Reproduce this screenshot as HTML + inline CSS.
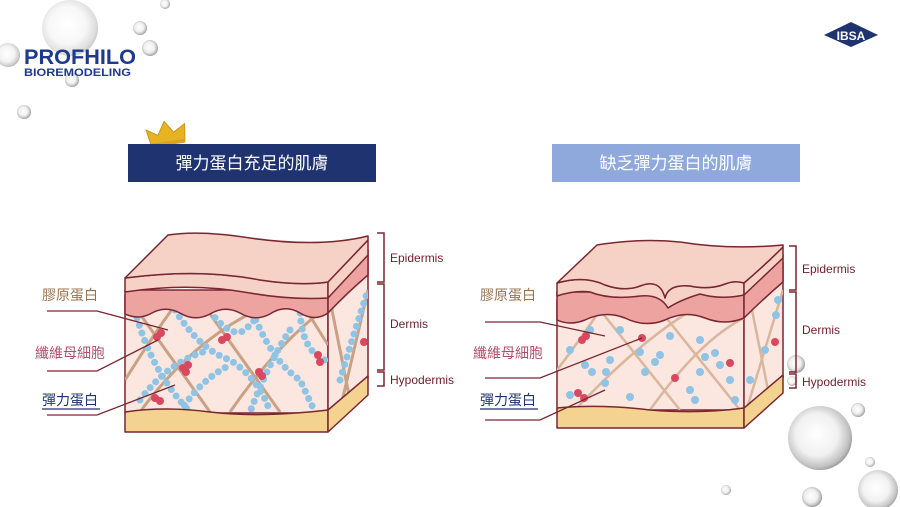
<!DOCTYPE html>
<html><head><meta charset="utf-8"><style>
html,body{margin:0;padding:0;background:#fff;}
body{width:900px;height:507px;overflow:hidden;position:relative;font-family:"Liberation Sans","Noto Sans CJK TC",sans-serif;}
svg{position:absolute;left:0;top:0;}
</style></head><body>
<svg width="900" height="507" viewBox="0 0 900 507" xmlns="http://www.w3.org/2000/svg" font-family="Liberation Sans, Noto Sans CJK TC, sans-serif">
<defs>
<radialGradient id="bub" cx="0.45" cy="0.45" r="0.6">
<stop offset="0" stop-color="#ffffff"/><stop offset="0.55" stop-color="#eeeeee"/><stop offset="0.85" stop-color="#b5b5b5"/><stop offset="1" stop-color="#6e6e6e"/>
</radialGradient>
<clipPath id="lf"><rect x="125" y="300" width="203" height="112"/></clipPath>
<clipPath id="lr"><polygon points="328,300 368,260 368,378 328,412"/></clipPath>
<clipPath id="rf"><rect x="557" y="305" width="187" height="105"/></clipPath>
<clipPath id="rr"><polygon points="744,305 783,268 783,378 744,410"/></clipPath>
</defs>

<!-- bubbles -->
<circle cx="70" cy="28" r="28" fill="url(#bub)" opacity="0.45"/>
<circle cx="8" cy="55" r="12" fill="url(#bub)" opacity="0.7"/>
<circle cx="140" cy="28" r="7" fill="url(#bub)"/>
<circle cx="150" cy="48" r="8" fill="url(#bub)"/>
<circle cx="72" cy="80" r="7" fill="url(#bub)"/>
<circle cx="24" cy="112" r="7" fill="url(#bub)"/>
<circle cx="165" cy="4" r="5" fill="url(#bub)"/>
<circle cx="796" cy="364" r="9" fill="url(#bub)"/>
<circle cx="792" cy="381" r="5" fill="url(#bub)"/>
<circle cx="820" cy="438" r="32" fill="url(#bub)" opacity="0.85"/>
<circle cx="858" cy="410" r="7" fill="url(#bub)"/>
<circle cx="878" cy="490" r="20" fill="url(#bub)" opacity="0.8"/>
<circle cx="812" cy="497" r="10" fill="url(#bub)"/>
<circle cx="726" cy="490" r="5" fill="url(#bub)"/>
<circle cx="870" cy="462" r="5" fill="url(#bub)"/>

<!-- logo -->
<text x="24" y="64" font-size="21" font-weight="bold" fill="#1e3a8a" textLength="112" lengthAdjust="spacingAndGlyphs">PROFHILO</text>
<text x="24" y="76" font-size="11" font-weight="bold" fill="#1e3a8a" textLength="107" lengthAdjust="spacingAndGlyphs">BIOREMODELING</text>
<polygon points="824,35 851,22 878,35 851,47" fill="#1e3370"/>
<text x="851" y="40" font-size="12" font-weight="bold" fill="#fff" text-anchor="middle">IBSA</text>

<!-- crown -->
<g transform="rotate(-8 168 135)">
<path d="M150,143 L147,127 L158,134 L166,121 L174,133 L186,126 L184,143 Z" fill="#e6b422" stroke="#c9961a" stroke-width="1"/>
<rect x="150" y="141" width="34" height="4" fill="#d9a520"/>
</g>

<!-- title boxes -->
<rect x="128" y="144" width="248" height="38" fill="#1e3370"/>
<text x="252" y="169" font-size="17" fill="#fff" text-anchor="middle">彈力蛋白充足的肌膚</text>
<rect x="552" y="144" width="248" height="38" fill="#8fa9dc"/>
<text x="676" y="169" font-size="17" fill="#fff" text-anchor="middle">缺乏彈力蛋白的肌膚</text>

<!-- LEFT BLOCK -->
<g stroke="#7a2630" stroke-width="1.5" stroke-linejoin="round">
<rect x="125" y="295" width="203" height="118" fill="#fbe6e0"/>
<polygon points="328,290 368,255 368,378 328,412" fill="#fbe6e0"/>
</g>
<g clip-path="url(#lf)">
<g stroke="#c9a184" stroke-width="3" fill="none">
<path d="M130,300 L210,412"/><path d="M140,412 Q200,330 280,300"/><path d="M200,300 L280,412"/>
<path d="M230,412 Q280,340 330,305"/><path d="M300,300 L328,345"/><path d="M125,380 Q150,340 175,305"/>
</g>
<g stroke="#8fc4e4" stroke-width="7" stroke-linecap="round" stroke-dasharray="0 8" fill="none">
<path d="M135,310 Q150,370 190,412"/><path d="M175,310 Q200,350 230,360 Q260,380 270,412"/>
<path d="M205,305 Q230,340 245,330 Q260,315 270,300"/><path d="M250,305 Q270,360 300,380 L315,412"/>
<path d="M300,305 Q300,350 325,360"/><path d="M140,400 Q170,360 210,350"/>
<path d="M180,412 Q200,380 230,365"/><path d="M290,330 Q270,360 250,412"/>
</g>
<g fill="#d9485f">
<circle cx="157" cy="337" r="4"/><circle cx="161" cy="333" r="4"/>
<circle cx="222" cy="340" r="4"/><circle cx="227" cy="337" r="4"/>
<circle cx="183" cy="368" r="4"/><circle cx="188" cy="365" r="4"/><circle cx="186" cy="372" r="4"/>
<circle cx="259" cy="372" r="4"/><circle cx="262" cy="376" r="4"/>
<circle cx="155" cy="398" r="4"/><circle cx="160" cy="401" r="4"/>
<circle cx="318" cy="355" r="4"/><circle cx="320" cy="362" r="4"/>
</g>
</g>
<g clip-path="url(#lr)">
<g stroke="#c9a184" stroke-width="3" fill="none"><path d="M330,300 L350,400"/><path d="M340,410 L368,290"/></g>
<g stroke="#8fc4e4" stroke-width="7" stroke-linecap="round" stroke-dasharray="0 8" fill="none"><path d="M340,380 Q355,330 368,290"/></g>
<circle cx="364" cy="342" r="4" fill="#d9485f"/>
</g>
<g stroke="#7a2630" stroke-width="1.5" stroke-linejoin="round">
<path d="M125,412 Q165,406 210,412 Q260,418 328,410 L328,432 L125,432 Z" fill="#f3d38f"/>
<polygon points="328,410 368,376 368,395 328,432" fill="#f3d38f"/>
<path d="M125,290 L328,290 L328,313 Q315,322 300,313 Q285,304 270,314 Q255,322 240,313 Q225,305 210,314 Q195,322 180,313 Q165,305 150,314 Q138,320 125,314 Z" fill="#eda3a0"/>
<path d="M328,290 Q348,272 368,250 L368,275 Q348,292 328,313 Z" fill="#eda3a0"/>
<path d="M125,278 Q200,268 260,280 Q300,286 328,282 L328,298 Q290,300 250,293 Q190,282 125,292 Z" fill="#f6d2c6"/>
<path d="M328,282 L368,240 L368,255 L328,298 Z" fill="#f6d2c6"/>
<path d="M125,278 L168,235 Q200,230 250,238 Q320,248 368,236 L368,240 L328,282 Q300,286 260,280 Q200,268 125,278 Z" fill="#f6d2c6"/>
</g>

<!-- RIGHT BLOCK -->
<g stroke="#7a2630" stroke-width="1.5" stroke-linejoin="round">
<rect x="557" y="300" width="187" height="110" fill="#fbe6e0"/>
<polygon points="744,300 783,262 783,378 744,410" fill="#fbe6e0"/>
</g>
<g clip-path="url(#rf)">
<g stroke="#d9b69c" stroke-width="2.5" fill="none">
<path d="M600,310 L680,410"/><path d="M575,410 Q640,340 700,305"/><path d="M660,310 L740,410"/>
<path d="M650,410 Q700,340 744,318"/><path d="M557,370 Q580,340 600,310"/>
</g>
<g fill="#8fc4e4">
<circle cx="590" cy="330" r="4"/><circle cx="570" cy="350" r="4"/><circle cx="585" cy="365" r="4"/><circle cx="592" cy="372" r="4"/>
<circle cx="606" cy="372" r="4"/><circle cx="610" cy="360" r="4"/><circle cx="640" cy="352" r="4"/><circle cx="660" cy="355" r="4"/>
<circle cx="655" cy="362" r="4"/><circle cx="645" cy="372" r="4"/><circle cx="670" cy="336" r="4"/><circle cx="700" cy="340" r="4"/>
<circle cx="705" cy="357" r="4"/><circle cx="715" cy="353" r="4"/><circle cx="720" cy="365" r="4"/><circle cx="700" cy="372" r="4"/>
<circle cx="605" cy="383" r="4"/><circle cx="630" cy="397" r="4"/><circle cx="690" cy="390" r="4"/><circle cx="695" cy="400" r="4"/>
<circle cx="730" cy="380" r="4"/><circle cx="735" cy="400" r="4"/><circle cx="570" cy="395" r="4"/><circle cx="620" cy="330" r="4"/>
<circle cx="690" cy="310" r="4"/>
</g>
<g fill="#d9485f">
<circle cx="582" cy="340" r="4"/><circle cx="586" cy="336" r="4"/><circle cx="642" cy="338" r="4"/>
<circle cx="675" cy="378" r="4"/><circle cx="730" cy="363" r="4"/><circle cx="578" cy="393" r="4"/><circle cx="584" cy="398" r="4"/>
</g>
</g>
<g clip-path="url(#rr)">
<g stroke="#d9b69c" stroke-width="2.5" fill="none"><path d="M750,300 L770,400"/><path d="M748,405 L783,290"/></g>
<g fill="#8fc4e4"><circle cx="778" cy="300" r="4"/><circle cx="776" cy="315" r="4"/><circle cx="765" cy="350" r="4"/><circle cx="750" cy="380" r="4"/></g>
<circle cx="775" cy="342" r="4" fill="#d9485f"/>
</g>
<g stroke="#7a2630" stroke-width="1.5" stroke-linejoin="round">
<path d="M557,408 Q600,404 650,410 Q700,414 744,408 L744,428 L557,428 Z" fill="#f3d38f"/>
<polygon points="744,408 783,375 783,393 744,428" fill="#f3d38f"/>
<path d="M557,292 L744,292 L744,318 Q725,326 705,318 Q685,310 665,320 Q645,328 625,318 Q605,310 585,320 Q570,326 557,320 Z" fill="#eda3a0"/>
<path d="M744,292 Q765,275 783,255 L783,282 Q762,300 744,318 Z" fill="#eda3a0"/>
<path d="M557,283 Q585,275 605,285 Q625,292 640,286 Q660,278 665,298 Q668,284 690,286 Q710,290 725,284 Q735,280 744,283 L744,295 Q720,300 700,294 Q680,300 668,308 Q660,294 640,296 Q610,300 590,292 Q575,290 557,296 Z" fill="#f6d2c6"/>
<path d="M744,283 Q765,265 783,247 L783,258 Q765,275 744,295 Z" fill="#f6d2c6"/>
<path d="M557,283 L597,245 Q640,238 680,242 Q730,250 783,245 L783,247 Q765,265 744,283 Q735,280 725,284 Q710,290 690,286 Q668,284 665,298 Q660,278 640,286 Q625,292 605,285 Q585,275 557,283 Z" fill="#f6d2c6"/>
</g>

<!-- brackets -->
<g stroke="#7a2630" stroke-width="1.5" fill="none">
<path d="M377,233 L384,233 L384,282 L377,282"/><path d="M377,284 L384,284 L384,370 L377,370"/><path d="M377,372 L384,372 L384,386 L377,386"/>
<path d="M789,246 L796,246 L796,290 L789,290"/><path d="M789,292 L796,292 L796,372 L789,372"/><path d="M789,374 L796,374 L796,388 L789,388"/>
</g>
<g font-size="12" fill="#6b1f2a">
<text x="390" y="262">Epidermis</text><text x="390" y="328">Dermis</text><text x="390" y="384">Hypodermis</text>
<text x="802" y="273">Epidermis</text><text x="802" y="334">Dermis</text><text x="802" y="386">Hypodermis</text>
</g>

<!-- labels -->
<g font-size="14">
<text x="42" y="300" fill="#9a7350">膠原蛋白</text>
<text x="35" y="358" fill="#b0506a">纖維母細胞</text>
<text x="42" y="405" fill="#1e3370">彈力蛋白</text>
<text x="480" y="300" fill="#9a7350">膠原蛋白</text>
<text x="473" y="358" fill="#b0506a">纖維母細胞</text>
<text x="480" y="405" fill="#1e3370">彈力蛋白</text>
</g>
<g stroke="#7a2630" stroke-width="1.3" fill="none">
<line x1="42" y1="409" x2="100" y2="409" stroke="#1e3370"/>
<line x1="480" y1="409" x2="538" y2="409" stroke="#1e3370"/>
<path d="M47,311 L97,311 L168,330"/><path d="M47,371 L97,371 L158,340"/><path d="M47,415 L97,415 L175,385"/>
<path d="M485,322 L540,322 L605,336"/><path d="M485,378 L540,378 L642,338"/><path d="M485,420 L540,420 L605,390"/>
</g>
</svg>
</body></html>
